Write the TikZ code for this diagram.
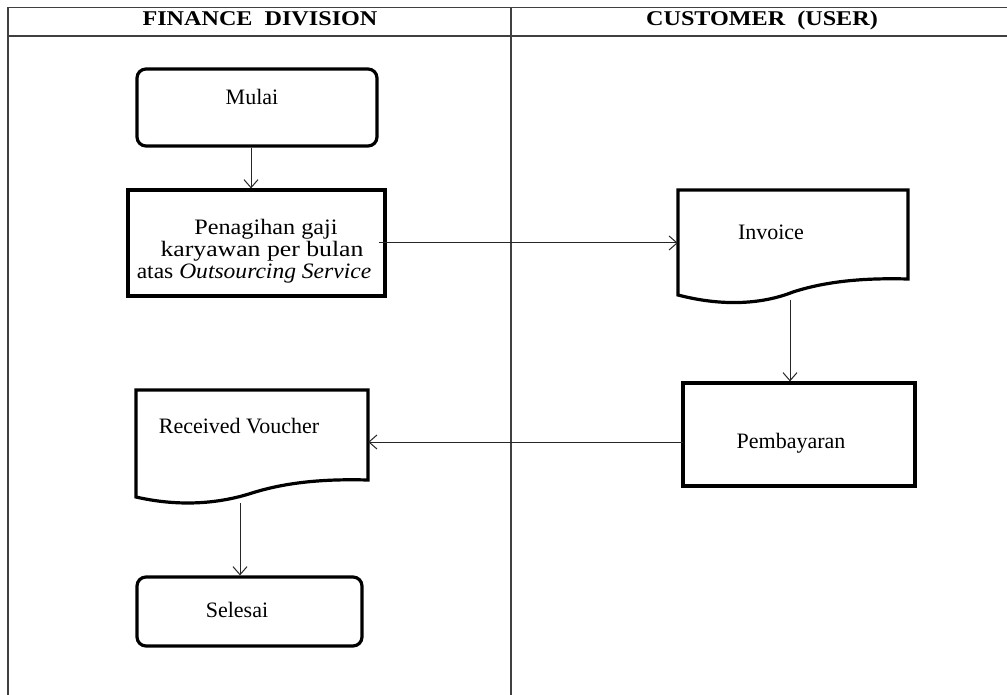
\documentclass[tikz,border=0pt]{standalone}
\usepackage{fontspec}
\setmainfont{Liberation Serif}
\usetikzlibrary{arrows.meta,calc}
\begin{document}
\begin{tikzpicture}[x=1pt,y=-1pt,
  frame/.style={draw=black!75,line width=1.2pt},
  thick box/.style={draw=black,line width=3.2pt},
  term/.style={thick box,rounded corners=9pt,inner sep=0pt},
  procbox/.style={thick box,inner sep=0pt},
  area/.style={draw=none,inner sep=0pt},
  txt/.style={font=\fontsize{22}{23}\selectfont,inner sep=0pt,anchor=base},
  head/.style={font=\bfseries\fontsize{21}{22}\selectfont,inner sep=0pt,anchor=base},
  arr/.style={draw=black!85,line width=1pt,-{Straight Barb[length=8pt,width=14pt,line width=1pt]}}]
\useasboundingbox (0,0) rectangle (1007,695);
\fill[white] (0,0) rectangle (1007,695);
% table frame
\draw[frame] (8,7.5) -- (1007,7.5);
\draw[frame] (8,36) -- (1007,36);
\draw[frame] (8,7.5) -- (8,695);
\draw[frame] (511,7.5) -- (511,695);
\node[head] (h1) at (260,26) {\scalebox{1.15}[1]{FINANCE\ \ DIVISION}};
\node[head] (h2) at (762,26) {\scalebox{1.15}[1]{CUSTOMER\ \ (USER)}};
% Mulai
\node[term,minimum width=240pt,minimum height=77pt] (mulai) at (257,107.5) {};
\node[txt] (tmulai) at (252,105) {Mulai};
% Penagihan
\node[procbox,minimum width=257pt,minimum height=106pt] (pen) at (256.5,243) {};
\node[txt] (tpen1) at (266,235) {\scalebox{1.1}[1]{Penagihan gaji}};
\node[txt] (tpen2) at (262,257) {\scalebox{1.17}[1]{karyawan per bulan}};
\node[txt] (tpen3) at (254,278) {\scalebox{1.07}[1]{atas \textit{Outsourcing Service}}};
% Invoice document
\draw[thick box,line join=miter] (678,295) -- (678,190) -- (908,190) -- (908,279)
  .. controls (870,278) and (830,280) .. (793,292)
  .. controls (760,305) and (720,306) .. cycle;
\node[area,minimum width=230pt,minimum height=110pt] (inv) at (793,245) {};
\node[txt] (tinv) at (771,240) {Invoice};
% Pembayaran
\node[procbox,minimum width=232pt,minimum height=103pt] (pem) at (799,434.5) {};
\node[txt] (tpem) at (791,448) {Pembayaran};
% Received Voucher document
\draw[thick box,line join=miter] (136,497) -- (136,390) -- (368,390) -- (368,480)
  .. controls (330,479) and (290,481) .. (252,493)
  .. controls (215,505) and (175,506) .. cycle;
\node[area,minimum width=232pt,minimum height=113pt] (rv) at (252,446.5) {};
\node[txt] (trv) at (239,433) {Received Voucher};
% Selesai
\node[term,minimum width=225pt,minimum height=69pt] (sel) at (249.5,611.5) {};
\node[txt] (tsel) at (237,617) {Selesai};
% connectors
\draw[arr] ([xshift=-6pt]mulai.south) -- ([xshift=-6pt]mulai.south |- pen.north);
\draw[arr] ([xshift=-8pt]pen.east) -- (pen.east -| inv.west);
\draw[arr] ([xshift=-3pt]inv.south) -- ([xshift=-3pt]inv.south |- pem.north);
\draw[arr] ([xshift=2pt,yshift=-7.5pt]pem.west) -- ([yshift=-7.5pt]pem.west -| rv.east);
\draw[arr] ([xshift=-12pt]rv.south) -- ([xshift=-12pt]rv.south |- sel.north);
\end{tikzpicture}
\end{document}
